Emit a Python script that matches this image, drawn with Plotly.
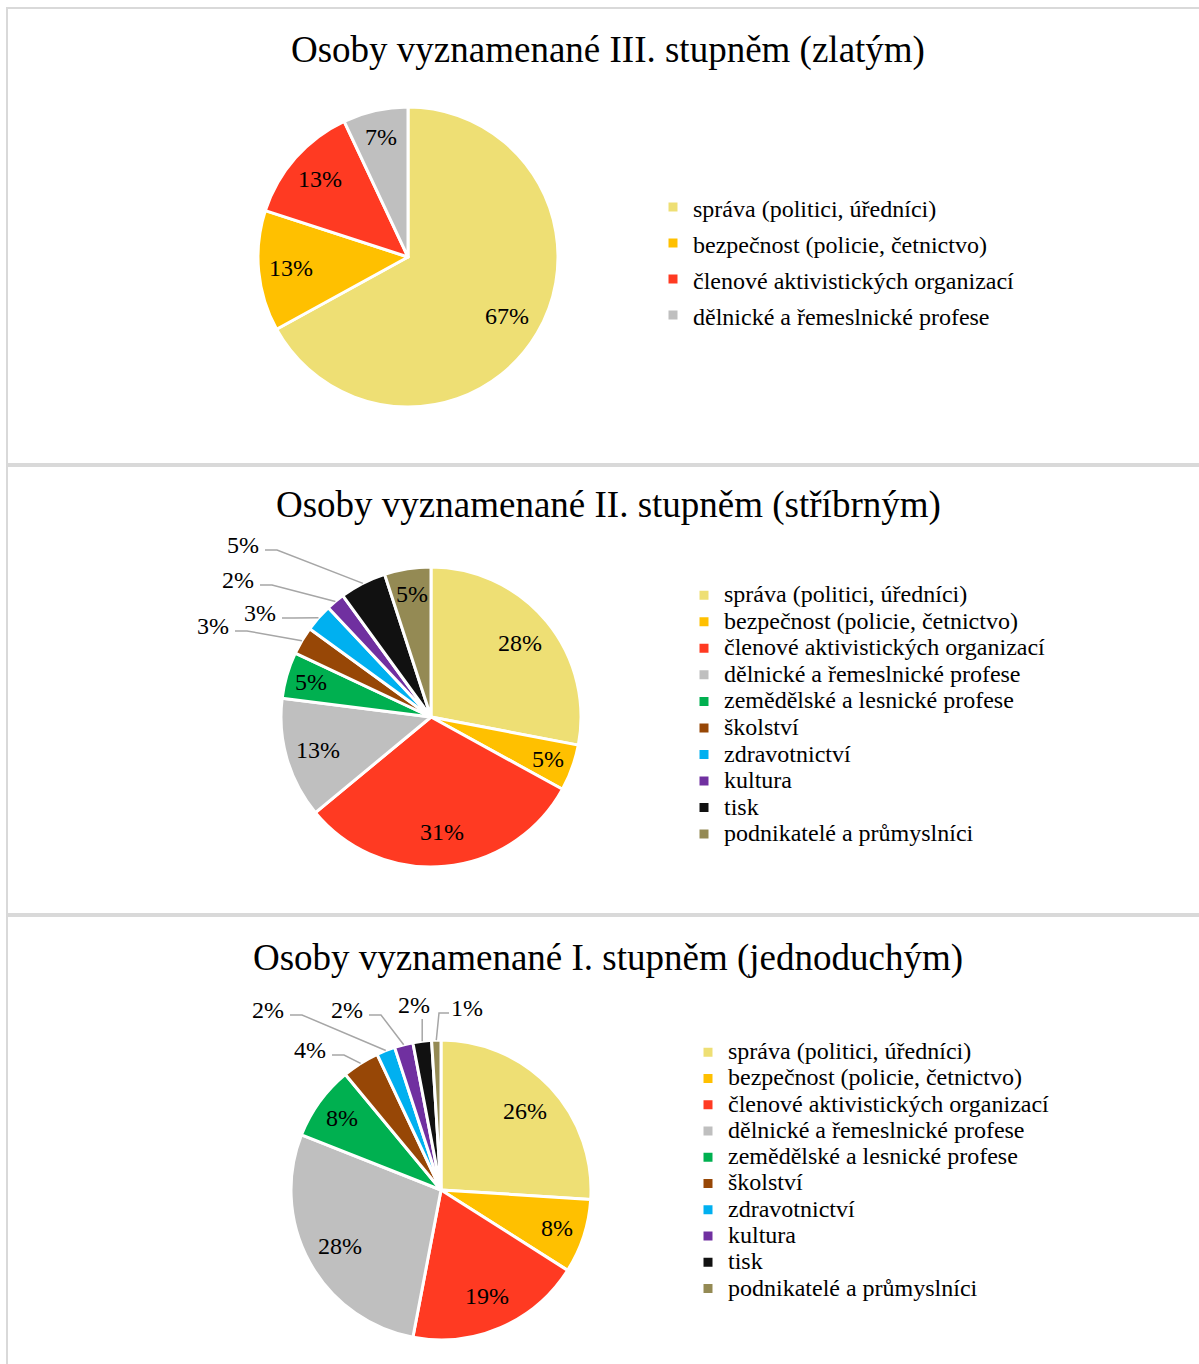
import math
import plotly.graph_objects as go

# ---------------- data ----------------
CATEGORIES = [
    "správa (politici, úředníci)",
    "bezpečnost (policie, četnictvo)",
    "členové aktivistických organizací",
    "dělnické a řemeslnické profese",
    "zemědělské a lesnické profese",
    "školství",
    "zdravotnictví",
    "kultura",
    "tisk",
    "podnikatelé a průmyslníci",
]
TITLES = [
    "Osoby vyznamenané III. stupněm (zlatým)",
    "Osoby vyznamenané II. stupněm (stříbrným)",
    "Osoby vyznamenané I. stupněm (jednoduchým)",
]
GOLD_PCT = [67, 13, 13, 7]
SILVER_PCT = [28, 5, 31, 13, 5, 3, 3, 2, 5, 5]
SIMPLE_PCT = [26, 8, 19, 28, 8, 4, 2, 2, 2, 1]

COLORS = ["#EEDF74", "#FFC000", "#FF3A22", "#BFBFBF", "#00B050",
          "#974706", "#00B0F0", "#7030A0", "#111111", "#948A54"]

# ---------------- layout config (pixels) ----------------
W, H = 1199, 1364
FONT = "Liberation Serif, Times New Roman, serif"
R = 150
PANELS = [
    dict(values=GOLD_PCT, center=(408, 257), title_y=50, panel=(8, 464),
         legend=dict(x=653, top=184, fs=25.4),
         outside={}),
    dict(values=SILVER_PCT, center=(431, 717), title_y=505, panel=(466, 914),
         legend=dict(x=684, top=577, fs=18.1),
         outside={5: (-218, -91), 6: (-171, -104), 7: (-193, -137), 8: (-188, -172)}),
    dict(values=SIMPLE_PCT, center=(441, 1190), title_y=958, panel=(916, 1380),
         legend=dict(x=688, top=1034, fs=17.9),
         outside={5: (-131, -140), 6: (-173, -180), 7: (-94, -180), 8: (-27, -185), 9: (26, -182)}),
]
# slightly different (visually identical) styles keep each pie's legend entries separate
LABEL_STYLES = ["font-size:24px", "font-size:24.0px", "font-size:24.00px"]


def px(x):
    return x / W


def py(y):
    return 1 - y / H


fig = go.Figure()
annotations = []
shapes = []
layout_legends = {}

for i, p in enumerate(PANELS):
    cx, cy = p["center"]
    vals = p["values"]
    n = len(vals)
    legend_name = "legend" if i == 0 else f"legend{i + 1}"
    fig.add_trace(go.Pie(
        labels=[f'<span style="{LABEL_STYLES[i]}">{c}</span>' for c in CATEGORIES[:n]],
        values=vals,
        sort=False,
        direction="clockwise",
        rotation=0,
        textinfo="none",
        hoverinfo="label+value",
        marker=dict(colors=COLORS[:n], line=dict(color="white", width=3)),
        domain=dict(x=[px(cx - R), px(cx + R)], y=[py(cy + R), py(cy - R)]),
        legend=legend_name,
        showlegend=True,
    ))
    lg = p["legend"]
    layout_legends[legend_name] = dict(
        x=px(lg["x"]), y=py(lg["top"]), xanchor="left", yanchor="top",
        bgcolor="rgba(0,0,0,0)", font=dict(family=FONT, size=lg["fs"], color="black"),
        traceorder="normal",
    )

    # panel border
    y0, y1 = p["panel"]
    shapes.append(dict(type="rect", xref="paper", yref="paper",
                       x0=px(7), x1=px(1215), y0=py(y1), y1=py(y0),
                       line=dict(color="#D9D9D9", width=2), fillcolor="rgba(0,0,0,0)",
                       layer="below"))
    # title
    annotations.append(dict(text=TITLES[i], x=px(608), y=py(p["title_y"]), xref="paper",
                            yref="paper", showarrow=False, xanchor="center", yanchor="middle",
                            font=dict(family=FONT, size=37, color="black")))

    # data labels
    total = sum(vals)
    cum = 0
    for k, v in enumerate(vals):
        mid = (cum + v / 2) / total
        cum += v
        ang = math.radians(90 - 360 * mid)
        txt = f"{v}%"
        if k in p["outside"]:
            dx, dy = p["outside"][k]
            lx, ly = cx + dx, cy + dy
            ex, ey = cx + R * math.cos(ang), cy - R * math.sin(ang)
            if abs(lx - ex) < 12:
                pts = [(ex, ly + 14), (ex, ey)]
            elif lx < ex:
                sx, sy = lx + 22, ly + 5
                pts = [(sx, sy), (sx + 12, sy), (ex, ey)]
            else:
                sx, sy = lx - 18, ly + 5
                pts = [(sx, sy), (sx - 10, sy), (ex, ey)]
            path = "M " + " L ".join(f"{px(a):.5f},{py(b):.5f}" for a, b in pts)
            shapes.append(dict(type="path", xref="paper", yref="paper", path=path,
                               line=dict(color="#A6A6A6", width=1.5)))
        else:
            frac = max(0.77, 0.86 - 0.006 * v)
            lx, ly = cx + frac * R * math.cos(ang), cy - frac * R * math.sin(ang)
        annotations.append(dict(text=txt, x=px(lx), y=py(ly), xref="paper", yref="paper",
                                showarrow=False, xanchor="center", yanchor="middle",
                                font=dict(family=FONT, size=24, color="black")))

fig.update_layout(
    width=W, height=H,
    margin=dict(l=0, r=0, t=0, b=0),
    paper_bgcolor="white", plot_bgcolor="white",
    font=dict(family=FONT, color="black"),
    annotations=annotations,
    shapes=shapes,
    **layout_legends,
)

fig.write_html("out.html", config={"displayModeBar": False},
               post_script="document.body.style.margin='0px';")
